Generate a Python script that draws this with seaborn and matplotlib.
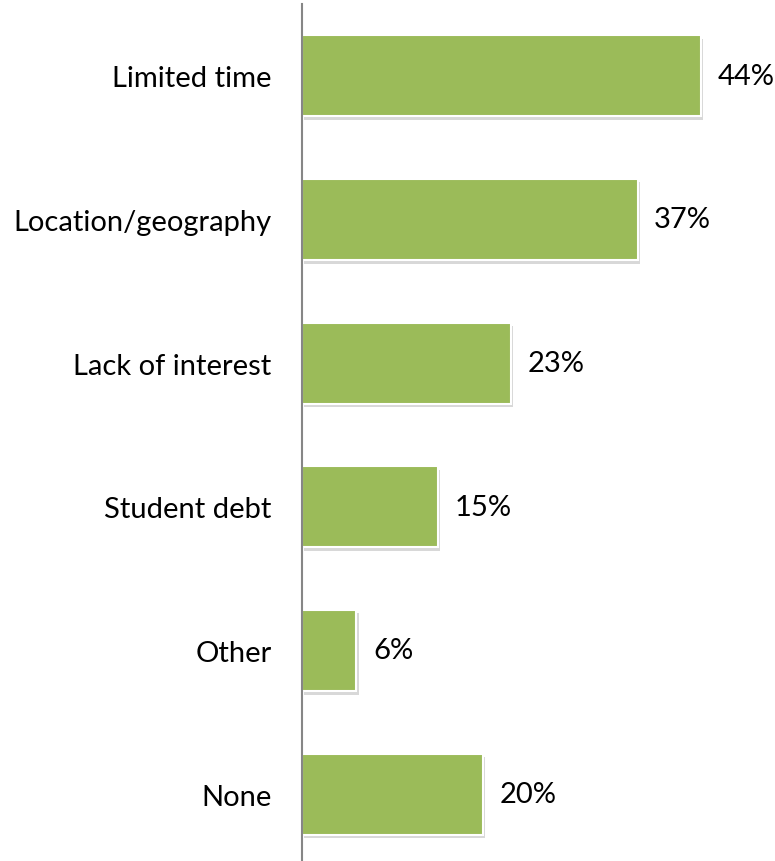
import matplotlib
matplotlib.use("Agg")
import matplotlib.pyplot as plt
import matplotlib.patheffects as pe
import seaborn as sns
import pandas as pd

categories = ["Limited time", "Location/geography", "Lack of interest",
              "Student debt", "Other", "None"]
values = [44, 37, 23, 15, 6, 20]
value_labels = ["44%", "37%", "23%", "15%", "6%", "20%"]

df = pd.DataFrame({"category": categories, "value": values})

sns.set_theme(style="white")
plt.rcParams["font.family"] = ["Lato", "DejaVu Sans"]

fig = plt.figure(figsize=(7.75, 8.62), dpi=100)
ax = fig.add_axes([302 / 775, -5 / 862, 473 / 775, 862 / 862])

sns.barplot(data=df, y="category", x="value", orient="h", ax=ax,
            color="#9BBB59", saturation=1, width=0.565,
            edgecolor="white", linewidth=1.5)

for patch in ax.patches:
    patch.set_path_effects([
        pe.SimplePatchShadow(offset=(1.5, -2.5), shadow_rgbFace="#909090", alpha=0.35),
        pe.Normal(),
    ])

for patch, lab in zip(ax.patches, value_labels):
    ax.annotate(lab, (patch.get_width(), patch.get_y() + patch.get_height() / 2),
                xytext=(12, 0), textcoords="offset points",
                ha="left", va="center", fontsize=21, color="black")

ax.set_xlim(0, 473 / 9.07)
ax.set_ylim(5.5, -0.5)
ax.set_xlabel("")
ax.set_ylabel("")
ax.set_xticks([])
ax.tick_params(axis="y", length=0, pad=22, labelsize=21, labelcolor="black")
for side in ["top", "right", "bottom"]:
    ax.spines[side].set_visible(False)
ax.spines["left"].set_color("#868686")
ax.spines["left"].set_linewidth(1.5)

fig.savefig("out.png", dpi=100, facecolor="white")
